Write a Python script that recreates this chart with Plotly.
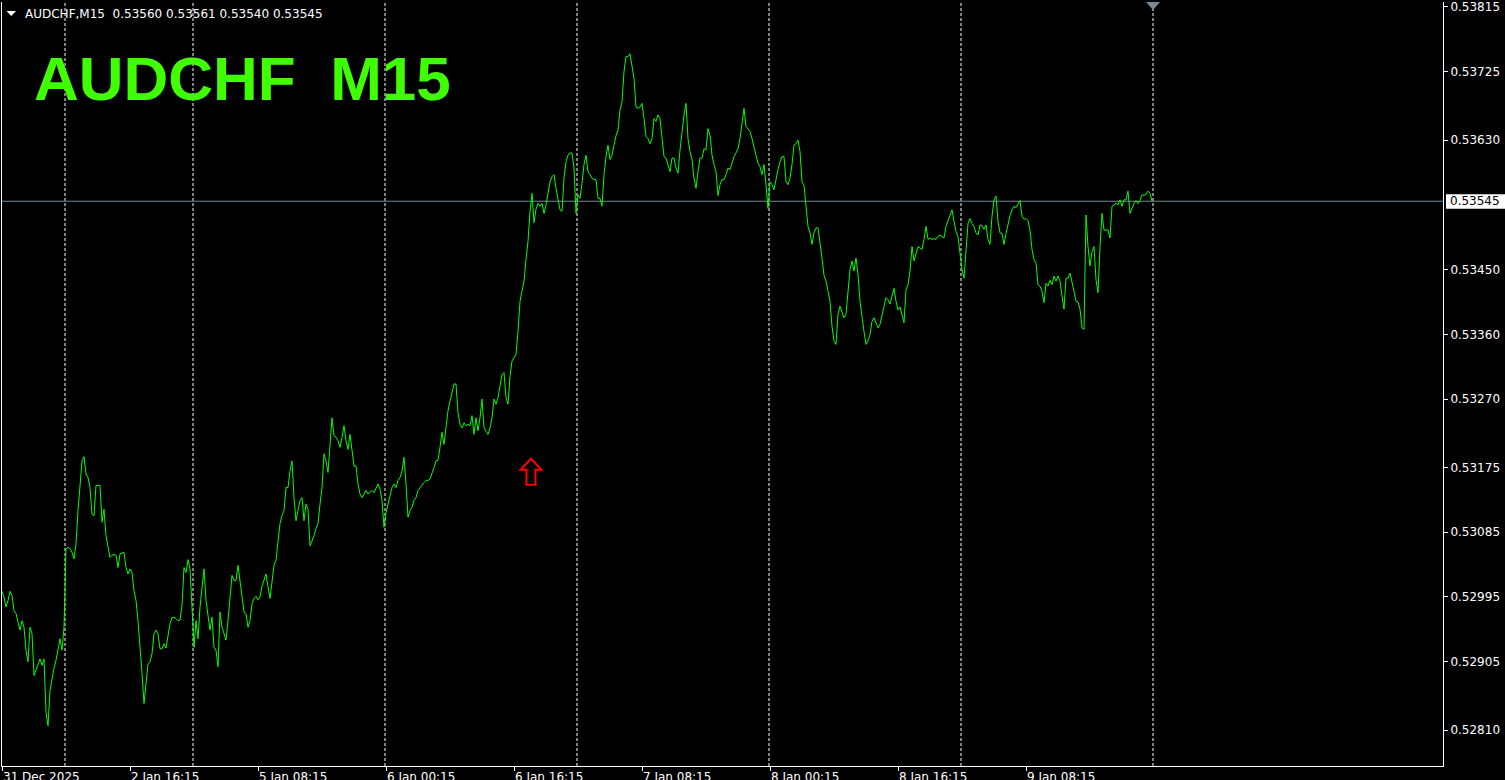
import plotly.graph_objects as go

# ---------------- data ----------------
symbol = "AUDCHF"
timeframe = "M15"
ohlc_last = ["0.53560", "0.53561", "0.53540", "0.53545"]

# close prices of successive M15 bars, in points (1 point = 0.00001)
close_points = [
    53003, 52995, 52981, 52990, 53003, 52997, 52976, 52972, 52960, 52949,
    52962, 52953, 52921, 52905, 52953, 52944, 52886, 52893, 52900, 52909,
    52900, 52909, 52835, 52816, 52865, 52884, 52896, 52907, 52921, 52937,
    52921, 52953, 53062, 53064, 53062, 53057, 53048, 53069, 53115, 53145,
    53184, 53190, 53166, 53161, 53147, 53110, 53108, 53150, 53150, 53150,
    53099, 53117, 53080, 53062, 53050, 53053, 53054, 53053, 53036, 53055,
    53056, 53057, 53036, 53027, 53034, 53029, 53004, 52990, 52962, 52928,
    52889, 52847, 52879, 52902, 52905, 52916, 52944, 52949, 52944, 52923,
    52923, 52930, 52924, 52942, 52958, 52966, 52967, 52965, 52962, 52963,
    52983, 53036, 53029, 53047, 53034, 52981, 52925, 52962, 52937, 52981,
    53013, 53034, 52990, 52972, 52949, 52967, 52925, 52921, 52898, 52974,
    52953, 52944, 52935, 52962, 52999, 53025, 53018, 53018, 53039, 53018,
    52990, 52974, 52972, 52953, 52962, 52986, 52993, 52996, 52991, 52995,
    53010, 53020, 53027, 53009, 52993, 53016, 53039, 53046, 53073, 53097,
    53108, 53115, 53147, 53147, 53170, 53184, 53133, 53101, 53115, 53129,
    53133, 53101, 53124, 53117, 53066, 53073, 53080, 53090, 53097, 53124,
    53147, 53194, 53184, 53168, 53205, 53244, 53219, 53217, 53212, 53203,
    53217, 53233, 53212, 53200, 53221, 53196, 53177, 53177, 53152, 53138,
    53133, 53138, 53143, 53138, 53140, 53143, 53140, 53147, 53152, 53145,
    53129, 53092, 53112, 53124, 53138, 53147, 53152, 53147, 53157, 53161,
    53170, 53189, 53152, 53106, 53115, 53120, 53129, 53133, 53143, 53147,
    53150, 53154, 53157, 53157, 53159, 53166, 53175, 53184, 53185, 53203,
    53224, 53207, 53229, 53254, 53267, 53281, 53291, 53291, 53251, 53235,
    53230, 53237, 53233, 53235, 53233, 53247, 53221, 53244, 53226, 53244,
    53270, 53230, 53226, 53221, 53230, 53244, 53270, 53263, 53272, 53291,
    53304, 53307, 53272, 53263, 53302, 53323, 53327, 53332, 53364, 53406,
    53420, 53434, 53464, 53489, 53531, 53556, 53515, 53534, 53542, 53538,
    53542, 53528, 53540, 53554, 53572, 53579, 53582, 53563, 53547, 53533,
    53531, 53577, 53600, 53609, 53612, 53612, 53591, 53528, 53554, 53549,
    53570, 53596, 53609, 53586, 53582, 53577, 53575, 53575, 53549, 53549,
    53538, 53582, 53607, 53623, 53603, 53609, 53623, 53636, 53644, 53672,
    53683, 53725, 53746, 53746, 53750, 53732, 53716, 53676, 53674, 53676,
    53681, 53660, 53635, 53632, 53625, 53632, 53660, 53656, 53665, 53660,
    53635, 53607, 53605, 53597, 53586, 53605, 53605, 53591, 53584, 53616,
    53642, 53665, 53681, 53632, 53614, 53603, 53577, 53563, 53586, 53605,
    53605, 53618, 53616, 53646, 53637, 53609, 53596, 53586, 53553, 53568,
    53575, 53575, 53582, 53591, 53589, 53600, 53607, 53612, 53618, 53632,
    53656, 53674, 53649, 53646, 53642, 53632, 53618, 53609, 53598, 53593,
    53582, 53596, 53568, 53535, 53572, 53568, 53561, 53577, 53589, 53600,
    53607, 53607, 53572, 53568, 53577, 53596, 53623, 53625, 53630, 53614,
    53572, 53567, 53538, 53510, 53501, 53485, 53501, 53508, 53508, 53489,
    53466, 53442, 53434, 53420, 53406, 53371, 53351, 53346, 53388, 53399,
    53392, 53383, 53388, 53415, 53450, 53462, 53448, 53466, 53443, 53406,
    53383, 53364, 53346, 53351, 53360, 53378, 53383, 53376, 53369, 53374,
    53388, 53402, 53411, 53408, 53402, 53413, 53424, 53406, 53394, 53398,
    53388, 53376, 53422, 53429, 53448, 53482, 53462, 53471, 53482, 53480,
    53478, 53492, 53510, 53492, 53494, 53492, 53493, 53492, 53496, 53498,
    53496, 53494, 53510, 53517, 53526, 53533, 53517, 53503, 53496, 53473,
    53450, 53438, 53482, 53514, 53521, 53514, 53510, 53501, 53498, 53512,
    53511, 53506, 53512, 53492, 53485, 53524, 53547, 53552, 53517, 53501,
    53500, 53485, 53500, 53515, 53525, 53533, 53538, 53536, 53542, 53546,
    53524, 53520, 53521, 53518, 53505, 53478, 53464, 53459, 53429, 53427,
    53420, 53404, 53431, 53427, 53435, 53429, 53441, 53434, 53441, 53434,
    53413, 53395, 53438, 53438, 53445, 53434, 53420, 53406, 53405, 53395,
    53369, 53367, 53526, 53482, 53455, 53475, 53482, 53436, 53418, 53482,
    53528, 53505, 53505, 53505, 53494, 53538, 53540, 53542, 53540, 53547,
    53538, 53547, 53547, 53559, 53528, 53536, 53542, 53546, 53542, 53546,
    53554, 53553, 53555, 53559, 53556, 53545,
]
bar_index = list(range(len(close_points)))
close_prices = [p / 100000 for p in close_points]

time_label_bars = [0, 64, 128, 192, 256, 320, 384, 448, 512]
time_labels = ["31 Dec 2025", "2 Jan 16:15", "5 Jan 08:15", "6 Jan 00:15",
               "6 Jan 16:15", "7 Jan 08:15", "8 Jan 00:15", "8 Jan 16:15",
               "9 Jan 08:15"]
day_separator_bars = [31.5, 95.5, 191.5, 287.5, 383.5, 479.5, 575.5]
price_ticks = [0.53815, 0.53725, 0.53630, 0.53450, 0.53360, 0.53270,
               0.53175, 0.53085, 0.52995, 0.52905, 0.52810]
bid_price = 0.53545
arrow_bar = 264.5
arrow_price = 0.53151
shift_bar = 575.5

y_min, y_max = 0.527601, 0.538219
x_min, x_max = 0, 720.5

# ---------------- figure ----------------
FONT = "DejaVu Sans"
fig = go.Figure()
fig.add_trace(go.Scatter(
    x=bar_index, y=close_prices, mode="lines",
    line=dict(color="#00ff00", width=1), hoverinfo="skip", showlegend=False,
))

shapes = []
for b in day_separator_bars:
    shapes.append(dict(type="line", xref="x", yref="paper", x0=b, x1=b, y0=0, y1=1,
                       line=dict(color="#ffffff", width=1, dash="3px,2px"), layer="below"))
# bid line
shapes.append(dict(type="line", xref="paper", yref="y", x0=0, x1=1, y0=bid_price, y1=bid_price,
                   line=dict(color="#778899", width=1), layer="below"))
# bid label box
shapes.append(dict(type="rect", xref="paper", xsizemode="pixel", xanchor=1, x0=3, x1=70,
                   yref="y", ysizemode="pixel", yanchor=bid_price, y0=-7.5, y1=7,
                   fillcolor="#ffffff", line=dict(width=0)))
# chart-shift marker
shapes.append(dict(type="path", xref="x", xsizemode="pixel", xanchor=shift_bar,
                   yref="paper", ysizemode="pixel", yanchor=1,
                   path="M-7,0 L7,0 L0,-8 Z", fillcolor="#778899", line=dict(width=0)))
# header triangle
shapes.append(dict(type="path", xref="paper", xsizemode="pixel", xanchor=0,
                   yref="paper", ysizemode="pixel", yanchor=1,
                   path="M4.5,-9 L14,-9 L9.25,-14 Z", fillcolor="#ffffff", line=dict(width=0)))
# red up arrow
shapes.append(dict(type="path", xref="x", xsizemode="pixel", xanchor=arrow_bar,
                   yref="y", ysizemode="pixel", yanchor=arrow_price,
                   path="M-4.5,0 L-4.5,15 L-10.5,15 L0,26 L10.5,15 L4.5,15 L4.5,0 Z",
                   fillcolor="rgba(0,0,0,0)", line=dict(color="#ff0000", width=2)))

annotations = []
for b, t in zip(time_label_bars, time_labels):
    annotations.append(dict(x=b, xref="x", y=0, yref="paper", text=t, showarrow=False,
                            xanchor="left", yanchor="top", xshift=-1, yshift=-2,
                            font=dict(family=FONT, size=12, color="#ffffff")))
annotations.append(dict(x=1, xref="paper", y=bid_price, yref="y", text=f"{bid_price:.5f}",
                        showarrow=False, xanchor="left", yanchor="middle", xshift=5,
                        font=dict(family=FONT, size=12, color="#000000")))
annotations.append(dict(x=0, xref="paper", y=1, yref="paper",
                        text=f"{symbol},{timeframe}\u00a0\u00a0" + " ".join(ohlc_last),
                        showarrow=False, xanchor="left", yanchor="middle", xshift=21, yshift=-12,
                        font=dict(family=FONT, size=12, color="#ffffff")))
annotations.append(dict(x=0, xref="paper", y=1 - 77 / 766, yref="paper",
                        text=f"<b>{symbol}\u00a0\u00a0{timeframe}</b>",
                        showarrow=False, xanchor="left", yanchor="middle", xshift=30,
                        font=dict(family="Liberation Sans", size=62, color="#40ff00")))

fig.update_layout(
    width=1505, height=780,
    margin=dict(l=2, r=62, t=0, b=14, pad=0),
    paper_bgcolor="#000000", plot_bgcolor="#000000",
    shapes=shapes, annotations=annotations, showlegend=False,
    xaxis=dict(range=[x_min, x_max], showgrid=False, zeroline=False,
               showline=True, linecolor="#ffffff", linewidth=1,
               tickmode="array", tickvals=time_label_bars, ticks="outside",
               ticklen=4, tickcolor="#ffffff", showticklabels=False, fixedrange=True),
    yaxis=dict(range=[y_min, y_max], side="right", showgrid=False, zeroline=False,
               showline=True, mirror=True, linecolor="#ffffff", linewidth=1,
               tickmode="array", tickvals=price_ticks, tickformat=".5f",
               ticks="outside", ticklen=4, tickcolor="#ffffff",
               ticklabeloverflow="allow",
               tickfont=dict(family=FONT, size=12, color="#ffffff"), fixedrange=True),
)

fig.write_html(
    "out.html",
    config={"displayModeBar": False},
    post_script="document.body.style.margin='0';document.body.style.overflow='hidden';"
                "document.body.style.background='#000';",
)
